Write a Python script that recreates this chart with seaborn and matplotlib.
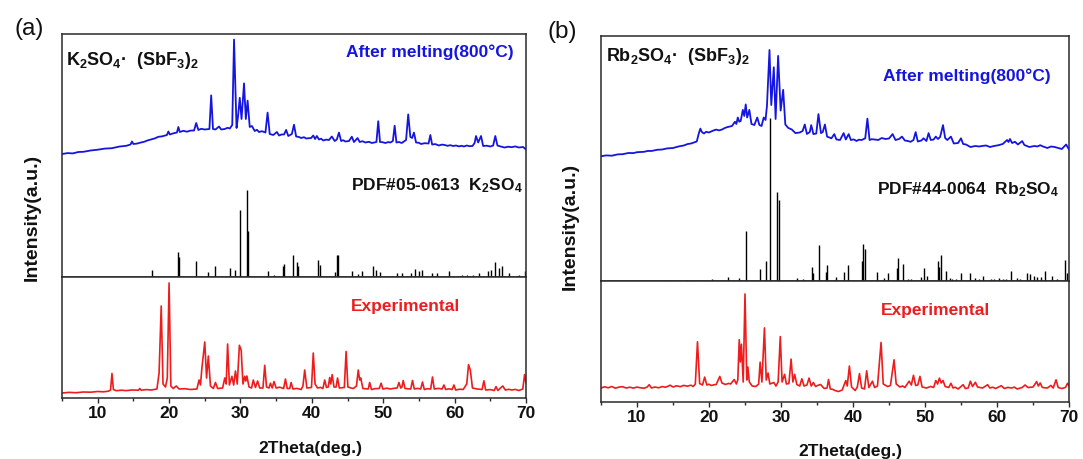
import matplotlib
matplotlib.use("Agg")
import matplotlib.pyplot as plt
import seaborn as sns
import pandas as pd
from matplotlib.ticker import MultipleLocator

# ---------------- data (2Theta in deg, intensity in a.u.) ----------------
# panel (a) K2SO4·(SbF3)2
red_a = [(5.0,5.0),(6.0,5.6),(7.0,5.3),(8.0,6.0),(9.0,5.8),(10.0,6.5),(10.8,6.2),(11.5,6.8),(11.8,8.0),(12.0,24.5),(12.2,8.5),(12.6,7.3),(13.3,7.8),(14.0,7.4),(14.8,8.0),(15.7,7.8),(15.9,9.5),(16.1,7.8),(16.8,8.4),(17.5,8.0),(18.3,9.0),(18.6,25.0),(18.9,92.0),(19.15,14.0),(19.5,11.0),(19.75,20.0),(20.0,115.0),(20.25,12.0),(20.6,9.5),(21.0,12.0),(21.4,9.0),(22.2,9.3),(23.0,8.5),(23.9,9.0),(24.2,18.0),(24.4,13.0),(24.6,30.0),(25.0,56.0),(25.25,20.0),(25.5,42.0),(25.8,12.0),(26.2,9.5),(26.5,15.5),(26.8,9.5),(27.5,10.0),(27.8,20.0),(28.0,14.0),(28.2,54.0),(28.45,13.0),(28.8,21.7),(29.05,13.0),(29.3,27.0),(29.55,14.0),(29.85,52.7),(30.1,48.0),(30.35,14.0),(30.6,21.7),(30.75,17.0),(30.9,22.0),(31.2,11.0),(31.55,10.0),(31.8,18.0),(32.1,10.5),(32.4,17.0),(32.7,10.0),(33.15,10.0),(33.4,32.7),(33.65,11.0),(34.0,10.0),(34.2,14.8),(34.45,10.0),(34.7,16.5),(35.0,10.0),(35.5,10.8),(36.05,9.5),(36.3,19.0),(36.55,9.5),(36.9,9.5),(37.1,15.5),(37.35,9.0),(37.9,9.6),(38.5,8.5),(38.75,12.0),(39.0,28.0),(39.3,10.0),(39.95,10.5),(40.2,45.0),(40.45,14.0),(40.8,10.0),(41.2,10.6),(41.55,9.5),(41.8,18.0),(42.05,10.5),(42.3,11.0),(42.5,20.5),(42.65,14.0),(42.85,23.4),(43.1,11.0),(43.4,11.0),(43.6,20.0),(43.85,10.0),(44.55,10.5),(44.8,46.5),(45.05,11.0),(45.4,10.2),(45.8,9.5),(46.25,12.0),(46.5,28.0),(46.7,18.0),(46.85,20.0),(47.15,9.5),(47.9,9.0),(48.1,15.5),(48.35,8.5),(48.9,9.4),(49.45,9.5),(49.7,14.8),(49.95,9.0),(50.5,9.8),(51.0,9.0),(51.5,9.7),(51.95,10.0),(52.2,15.5),(52.45,10.0),(52.6,10.5),(52.8,17.5),(53.05,9.5),(53.85,9.0),(54.1,17.5),(54.35,9.0),(54.8,9.6),(55.25,9.0),(55.5,16.0),(55.75,8.5),(56.2,9.3),(56.65,9.0),(56.9,21.0),(57.15,9.0),(57.7,9.6),(58.25,9.0),(58.5,13.0),(58.75,8.5),(59.2,9.2),(59.65,8.5),(59.9,13.0),(60.15,8.0),(60.7,8.8),(61.2,8.5),(61.7,14.0),(61.95,33.4),(62.2,28.0),(62.5,10.0),(63.2,9.0),(63.85,8.5),(64.1,17.2),(64.35,8.0),(65.0,8.4),(65.55,7.5),(65.8,11.4),(66.05,7.5),(66.5,10.5),(66.75,12.0),(67.1,8.0),(67.6,8.7),(68.0,8.0),(68.5,8.6),(69.0,7.5),(69.55,9.0),(69.8,23.4),(70.0,14.8)]

blue_a = [(5.0,123.0),(5.8,123.9),(6.5,123.6),(7.3,125.0),(8.0,125.2),(9.0,126.5),(10.0,127.3),(11.0,128.4),(12.0,128.8),(13.0,130.4),(14.0,131.2),(14.6,132.5),(14.8,135.5),(15.0,133.0),(15.5,133.4),(16.0,134.4),(16.5,135.2),(17.0,136.6),(17.5,137.6),(18.0,138.6),(18.5,140.2),(19.0,140.6),(19.7,142.0),(19.9,145.5),(20.1,142.5),(20.5,143.5),(21.1,144.5),(21.3,150.0),(21.5,145.0),(22.0,146.2),(22.5,145.3),(23.0,146.4),(23.5,146.5),(23.8,154.0),(24.1,147.0),(24.5,148.2),(25.0,147.5),(25.65,148.0),(25.9,181.6),(26.15,148.0),(26.5,147.5),(27.0,150.5),(27.3,147.5),(27.8,148.0),(28.2,149.2),(28.5,148.5),(28.85,152.0),(29.1,237.4),(29.45,149.0),(29.65,160.0),(29.9,179.2),(30.15,158.0),(30.5,193.6),(30.75,158.0),(31.0,176.4),(31.3,150.0),(31.6,151.0),(32.0,146.0),(32.3,147.2),(32.6,145.0),(33.0,145.8),(33.5,144.5),(33.8,164.4),(34.1,143.0),(34.6,142.0),(35.1,145.0),(35.4,141.5),(35.8,142.6),(36.1,142.5),(36.4,147.1),(36.7,141.0),(37.2,143.0),(37.5,152.3),(37.8,140.5),(38.2,140.0),(38.5,139.0),(38.9,139.8),(39.2,138.5),(39.9,139.0),(40.2,141.5),(40.45,138.0),(40.7,141.0),(41.0,137.5),(41.3,138.3),(41.6,136.5),(42.0,137.4),(42.4,137.0),(42.8,140.5),(43.2,136.0),(43.5,137.5),(43.8,144.4),(44.1,136.0),(44.4,136.8),(44.7,135.5),(45.2,136.0),(45.6,140.3),(45.9,135.0),(46.1,136.5),(46.4,139.0),(46.7,135.0),(47.1,135.8),(47.5,134.5),(48.0,135.2),(48.4,134.0),(49.05,135.0),(49.3,155.8),(49.55,135.0),(49.9,134.8),(50.3,134.0),(50.7,134.9),(51.0,134.5),(51.35,136.0),(51.6,151.3),(51.85,134.5),(52.2,135.0),(52.6,134.0),(53.2,137.0),(53.5,162.6),(53.8,140.0),(54.05,139.0),(54.3,144.4),(54.6,134.5),(55.0,134.2),(55.3,133.0),(55.8,133.8),(56.35,133.5),(56.6,142.0),(56.85,132.5),(57.3,132.9),(57.8,131.5),(58.2,132.4),(58.6,132.0),(59.0,131.2),(59.4,131.8),(59.8,131.0),(60.2,131.5),(60.6,130.6),(61.0,131.2),(61.3,130.5),(61.7,131.5),(62.1,130.8),(62.5,131.0),(62.8,134.0),(63.0,141.0),(63.3,134.5),(63.7,141.0),(64.0,131.0),(64.5,131.3),(65.0,130.5),(65.4,131.5),(65.7,141.0),(66.0,131.5),(66.5,130.4),(67.0,129.5),(67.5,130.3),(68.0,129.8),(68.5,130.6),(69.0,129.5),(69.6,130.0),(70.0,127.5)]

pdf_a_pos = [17.6,21.3,21.45,23.8,25.5,26.5,28.6,29.3,29.9,30.9,31.1,33.8,34.7,35.9,36.15,37.35,37.95,38.1,40.8,41.2,43.3,43.55,43.7,45.6,46.5,47.0,48.6,49.0,49.5,51.9,52.6,53.9,54.5,55.0,55.5,56.9,57.6,59.2,61.0,61.7,62.6,63.4,64.7,65.1,65.6,66.2,66.7,67.6,69.0,69.85]
pdf_a_int = [7.2,25.1,19.8,15.8,5.5,11.4,8.6,7.2,67.1,87.1,46.5,6.2,2.4,11.4,13.1,21.7,14.8,11.4,17.2,12.4,5.2,21.7,21.7,6.2,3.4,6.2,10.7,7.2,5.5,4.5,4.5,4.5,7.9,6.2,7.2,3.8,3.8,6.2,1.7,1.7,2.4,4.5,6.2,7.2,15.5,8.6,10.7,3.8,1.7,6.2]

# panel (b) Rb2SO4·(SbF3)2
red_b = [(5.0,14.0),(5.5,15.2),(6.0,14.2),(6.5,15.5),(7.0,13.8),(7.5,14.9),(8.0,15.3),(8.5,14.0),(9.0,14.8),(9.5,13.9),(10.0,14.9),(10.5,14.2),(11.0,13.8),(11.4,14.9),(11.7,17.3),(12.0,14.0),(12.5,15.0),(13.0,14.2),(13.5,15.4),(14.0,14.8),(14.6,16.8),(15.0,15.0),(15.5,16.2),(16.0,15.3),(16.5,16.6),(17.0,15.8),(17.5,16.8),(17.8,15.5),(18.1,18.0),(18.4,60.2),(18.7,18.5),(19.1,17.0),(19.4,24.9),(19.7,17.0),(20.0,17.8),(20.3,16.5),(20.7,17.2),(21.0,17.5),(21.5,25.6),(21.8,19.0),(22.3,17.5),(22.7,18.6),(23.0,18.0),(23.5,22.5),(23.8,18.0),(24.0,22.0),(24.2,62.3),(24.35,40.0),(24.5,57.8),(24.75,20.0),(25.0,108.0),(25.25,22.0),(25.4,35.0),(25.6,20.0),(26.0,16.0),(26.5,15.5),(26.9,18.0),(27.1,39.8),(27.35,20.0),(27.7,74.1),(27.95,22.0),(28.2,29.0),(28.45,18.0),(29.0,19.5),(29.3,16.0),(29.6,20.0),(29.9,65.4),(30.15,20.0),(30.5,27.7),(30.75,18.0),(31.1,18.5),(31.4,42.9),(31.65,20.0),(31.9,27.7),(32.2,17.5),(32.6,16.0),(32.9,23.2),(33.2,16.0),(33.6,17.0),(33.9,23.9),(34.2,16.0),(34.5,19.5),(34.8,15.5),(35.1,16.6),(35.5,17.5),(36.0,13.5),(36.4,14.0),(36.6,22.5),(36.85,13.0),(37.2,12.6),(37.5,11.5),(38.0,10.5),(38.5,12.0),(39.0,21.5),(39.2,16.0),(39.5,36.0),(39.8,15.0),(40.3,11.5),(40.6,15.0),(40.9,28.4),(41.2,14.0),(41.6,13.0),(41.9,31.2),(42.2,14.5),(42.7,20.8),(43.0,14.5),(43.4,16.0),(43.9,59.6),(44.2,18.0),(44.8,15.5),(45.2,16.5),(45.7,42.2),(46.0,18.0),(46.5,15.0),(46.9,16.0),(47.2,14.5),(47.8,20.8),(48.1,17.0),(48.4,26.7),(48.7,16.5),(49.0,17.0),(49.3,25.6),(49.6,15.0),(50.2,14.0),(50.8,15.5),(51.2,14.5),(51.5,21.5),(51.75,18.0),(52.0,23.9),(52.25,19.0),(52.5,21.5),(52.8,15.5),(53.3,14.5),(53.6,18.7),(53.9,14.0),(54.2,14.8),(54.6,13.0),(55.3,17.3),(55.6,13.5),(56.0,14.0),(56.3,20.8),(56.6,15.5),(57.0,19.7),(57.3,15.0),(58.0,14.0),(58.7,17.3),(59.0,14.0),(59.4,14.8),(59.8,13.5),(60.6,16.3),(61.0,13.5),(61.5,14.6),(62.0,14.0),(62.4,14.9),(62.8,13.0),(63.5,14.5),(63.9,17.0),(64.3,14.5),(65.0,15.0),(65.5,20.4),(65.75,16.0),(66.0,19.0),(66.3,14.5),(67.0,14.0),(67.5,16.6),(67.8,14.0),(68.2,22.2),(68.5,14.5),(69.0,13.5),(69.5,14.5),(69.8,18.7),(70.0,16.0)]

blue_b = [(5.0,124.7),(5.7,125.6),(6.5,125.3),(7.3,126.6),(8.0,126.8),(8.8,128.0),(9.5,127.9),(10.0,128.8),(11.0,129.2),(11.5,130.1),(12.0,130.0),(12.8,131.2),(13.5,131.5),(14.2,132.6),(15.0,133.0),(15.8,134.6),(16.5,135.5),(17.0,136.9),(17.5,137.5),(18.3,139.5),(18.6,148.0),(18.8,152.4),(19.0,149.0),(19.3,147.5),(19.6,149.2),(20.0,148.5),(20.5,150.2),(21.0,151.4),(21.4,150.6),(21.8,151.5),(22.2,153.0),(22.5,153.8),(23.2,155.0),(23.6,159.3),(23.8,157.0),(24.0,163.5),(24.2,159.3),(24.4,160.0),(24.7,171.1),(24.9,165.0),(25.1,176.6),(25.3,163.5),(25.6,171.1),(25.9,157.0),(26.3,156.0),(26.7,163.5),(27.0,156.0),(27.3,155.0),(27.6,163.5),(27.85,161.0),(28.05,175.0),(28.4,231.0),(28.65,176.0),(29.0,213.7),(29.25,162.0),(29.6,225.1),(29.95,170.4),(30.3,191.2),(30.6,156.5),(31.0,153.1),(31.5,151.5),(32.0,147.9),(32.6,148.5),(33.0,150.0),(33.3,156.5),(33.6,147.0),(34.0,149.0),(34.2,155.9),(34.5,146.9),(34.9,147.5),(35.2,166.9),(35.55,147.9),(35.8,149.0),(36.1,156.5),(36.4,144.4),(37.0,142.7),(37.4,146.9),(37.7,141.5),(38.2,141.0),(38.7,147.9),(39.0,141.5),(39.4,146.9),(39.7,141.0),(40.1,141.6),(40.5,140.0),(40.8,141.3),(41.2,141.0),(41.7,142.7),(42.0,162.4),(42.3,141.0),(42.6,141.8),(43.0,141.5),(43.5,141.0),(44.0,143.0),(44.5,142.0),(45.0,142.5),(45.5,146.9),(45.9,141.0),(46.4,142.0),(46.8,144.4),(47.2,140.5),(47.6,140.0),(48.0,139.2),(48.4,141.0),(48.7,148.9),(49.0,139.5),(49.5,140.5),(49.8,142.7),(50.2,140.0),(50.5,147.9),(50.8,141.0),(51.2,141.5),(51.5,144.4),(51.8,142.0),(52.1,144.0),(52.5,155.9),(52.8,143.0),(53.1,141.0),(53.6,144.4),(54.0,137.5),(54.6,138.0),(55.0,142.7),(55.3,137.0),(55.7,136.5),(56.3,134.0),(57.0,135.0),(57.5,134.5),(58.0,135.1),(58.5,135.5),(59.0,134.0),(59.6,135.0),(60.2,135.8),(60.8,137.0),(61.4,141.0),(61.6,139.0),(61.8,142.0),(62.1,138.0),(62.5,139.2),(62.9,136.5),(63.5,139.9),(63.8,136.0),(64.5,134.0),(65.2,135.0),(65.6,134.5),(66.0,135.8),(66.4,134.5),(67.0,133.0),(67.5,134.5),(68.0,134.0),(68.5,133.0),(69.0,132.0),(69.6,136.5),(70.0,131.5)]

pdf_b_pos = [14.0,16.9,20.4,22.6,24.2,25.2,27.1,27.9,28.46,29.5,29.72,32.2,33.0,34.3,34.45,35.3,36.2,36.4,37.7,38.8,39.3,41.25,41.4,41.65,43.3,44.3,44.8,46.1,46.3,47.0,47.6,48.0,49.4,49.8,50.3,51.75,52.0,52.2,52.9,53.5,53.8,54.3,55.0,56.2,56.9,57.5,58.0,59.1,59.6,60.3,60.8,61.2,62.0,62.8,63.2,64.1,64.6,65.1,65.6,66.1,66.7,67.7,68.3,69.5,69.75]
pdf_b_int = [1.4,1.4,1.7,4.2,3.1,50.2,12.1,20.1,163.0,89.3,81.4,3.5,1.7,13.9,7.6,36.0,8.7,16.3,4.2,9.4,15.6,19.7,37.0,31.9,9.4,2.8,8.0,13.2,23.5,16.6,2.4,2.4,4.2,13.2,5.2,20.1,14.5,25.9,9.7,2.8,2.0,2.0,8.0,7.6,3.5,2.0,5.2,2.4,2.0,2.8,2.4,2.4,9.7,3.5,2.0,8.0,6.9,5.2,4.0,4.0,9.7,5.2,2.0,20.8,8.0]

x_ticks = [10, 20, 30, 40, 50, 60, 70]

# ---------------- style ----------------
sns.set_theme(style="white")
plt.rcParams["font.family"] = ["Liberation Sans", "DejaVu Sans"]
plt.rcParams["mathtext.default"] = "regular"

BLUE = "#1515E0"
RED = "#EE1C1C"
SPINE = "#2a2a2a"

W, H = 1083, 459
fig = plt.figure(figsize=(W / 100, H / 100), dpi=100)


def add_px_axes(l, t, r, b):
    return fig.add_axes([l / W, 1 - b / H, (r - l) / W, (b - t) / H])


def ftext(x, y, s, **kw):
    fig.text(x / W, 1 - y / H, s, **kw)


panels = [
    dict(left=62, right=526, top=34, div=277, bottom=398,
         red=red_a, blue=blue_a, pos=pdf_a_pos, inten=pdf_a_int),
    dict(left=601, right=1069, top=36, div=281, bottom=402,
         red=red_b, blue=blue_b, pos=pdf_b_pos, inten=pdf_b_int),
]

for p in panels:
    ax_t = add_px_axes(p["left"], p["top"], p["right"], p["div"])
    ax_b = add_px_axes(p["left"], p["div"], p["right"], p["bottom"])

    # PDF reference sticks
    ax_t.vlines(p["pos"], 0, p["inten"], color="black", lw=1.0, zorder=2)
    # after melting pattern
    dfb = pd.DataFrame(p["blue"], columns=["x", "y"])
    sns.lineplot(data=dfb, x="x", y="y", ax=ax_t, color=BLUE, lw=1.3,
                 estimator=None, sort=False, zorder=3)
    # experimental pattern
    dfr = pd.DataFrame(p["red"], columns=["x", "y"])
    sns.lineplot(data=dfr, x="x", y="y", ax=ax_b, color=RED, lw=1.2,
                 estimator=None, sort=False)

    ax_t.set_ylim(0, p["div"] - p["top"])
    ax_b.set_ylim(0, p["bottom"] - p["div"])
    for ax in (ax_t, ax_b):
        ax.set_xlim(5, 70)
        ax.set_xlabel("")
        ax.set_ylabel("")
        ax.set_yticks([])
        for sp in ax.spines.values():
            sp.set_color(SPINE)
            sp.set_linewidth(1.1)
            sp.set_visible(True)
    ax_t.set_xticks([])
    ax_b.set_xticks(x_ticks)
    ax_b.xaxis.set_minor_locator(MultipleLocator(5))
    ax_b.tick_params(axis="x", which="both", direction="out", bottom=True,
                     top=False, color=SPINE, width=1.0, pad=2,
                     labelsize=12.5)
    ax_b.tick_params(axis="x", which="major", length=3.5)
    ax_b.tick_params(axis="x", which="minor", length=2.2)
    for lab in ax_b.get_xticklabels():
        lab.set_fontweight("bold")
        lab.set_color("#111111")

# ---------------- texts ----------------
bold = dict(fontweight="bold", color="#111111")
ftext(29, 29, "(a)", fontsize=17.5, ha="center", va="center", color="#111111")
ftext(562, 32, "(b)", fontsize=17.5, ha="center", va="center", color="#111111")

ftext(66.5, 65, r"K$_2$SO$_4$·  (SbF$_3$)$_2$", fontsize=13, ha="left", va="baseline", **bold)
ftext(606, 61, r"Rb$_2$SO$_4$·  (SbF$_3$)$_2$", fontsize=13, ha="left", va="baseline", **bold)

ftext(514, 57, "After melting(800°C)", fontsize=12.5, ha="right", va="baseline",
      fontweight="bold", color=BLUE)
ftext(1050.5, 81.5, "After melting(800°C)", fontsize=12.5, ha="right", va="baseline",
      fontweight="bold", color=BLUE)

ftext(522.5, 190.5, r"PDF#05-0613  K$_2$SO$_4$", fontsize=12.5, ha="right", va="baseline", **bold)
ftext(1059, 194.5, r"PDF#44-0064  Rb$_2$SO$_4$", fontsize=12.5, ha="right", va="baseline", **bold)

ftext(405, 311.5, "Experimental", fontsize=12.5, ha="center", va="baseline",
      fontweight="bold", color=RED)
ftext(935.5, 314.5, "Experimental", fontsize=12.5, ha="center", va="baseline",
      fontweight="bold", color=RED)

ftext(32, 217.5, "Intensity(a.u.)", fontsize=14, rotation=90, ha="center", va="center", **bold)
ftext(570, 226, "Intensity(a.u.)", fontsize=14, rotation=90, ha="center", va="center", **bold)

ftext(310, 453, "2Theta(deg.)", fontsize=12.5, ha="center", va="baseline", **bold)
ftext(850, 456, "2Theta(deg.)", fontsize=12.5, ha="center", va="baseline", **bold)

fig.savefig("out.png", dpi=100, facecolor="white")
